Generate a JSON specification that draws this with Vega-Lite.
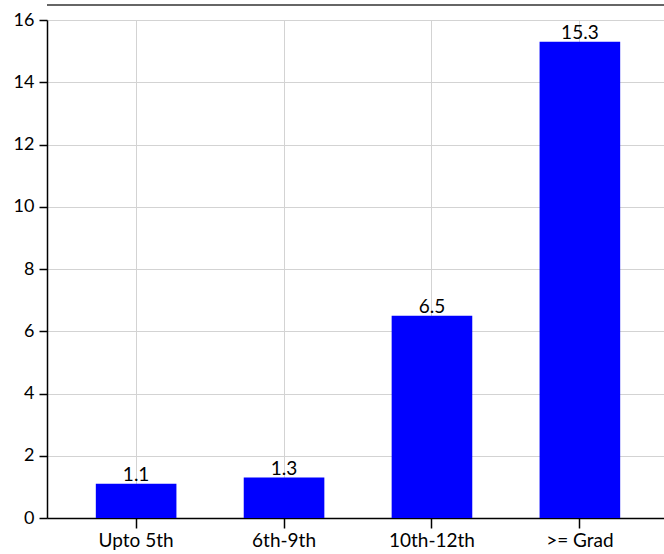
{
  "$schema": "https://vega.github.io/schema/vega-lite/v6.json",
  "width": 622,
  "height": 498,
  "autosize": "none",
  "padding": {"left": 47, "top": 20, "right": 0, "bottom": 36},
  "background": "white",
  "config": {
    "view": {"stroke": null},
    "font": "Lato",
    "axis": {
      "labelFont": "Lato",
      "labelFontSize": 18,
      "labelColor": "black",
      "domainColor": "black",
      "domainWidth": 1.5,
      "tickColor": "black",
      "tickWidth": 1.5,
      "gridColor": "#d3d3d3",
      "gridWidth": 1,
      "title": null
    }
  },
  "data": {
    "values": [
      {"category": "Upto 5th", "value": 1.1},
      {"category": "6th-9th", "value": 1.3},
      {"category": "10th-12th", "value": 6.5},
      {"category": ">= Grad", "value": 15.3}
    ]
  },
  "encoding": {
    "x": {
      "field": "category",
      "type": "nominal",
      "sort": null,
      "scale": {"paddingInner": 0.455, "paddingOuter": 0.33},
      "axis": {"labelAngle": 0, "grid": true, "tickSize": 10, "labelPadding": 3, "labelFontSize": 19, "domain": true}
    },
    "y": {
      "field": "value",
      "type": "quantitative",
      "scale": {"domain": [0, 16], "nice": false},
      "axis": {"values": [0, 2, 4, 6, 8, 10, 12, 14, 16], "tickSize": 8, "labelPadding": 5, "grid": true}
    }
  },
  "layer": [
    {"mark": {"type": "bar", "color": "#0000ff"}},
    {
      "mark": {"type": "text", "baseline": "bottom", "dy": 1, "fontSize": 19, "font": "Lato", "color": "black"},
      "encoding": {"text": {"field": "value", "type": "quantitative", "format": ".1f"}}
    },
    {
      "mark": {"type": "rule", "color": "#666666", "strokeWidth": 1.5, "clip": false},
      "encoding": {"y": {"datum": 16.48, "type": "quantitative"}, "x": null}
    }
  ]
}
